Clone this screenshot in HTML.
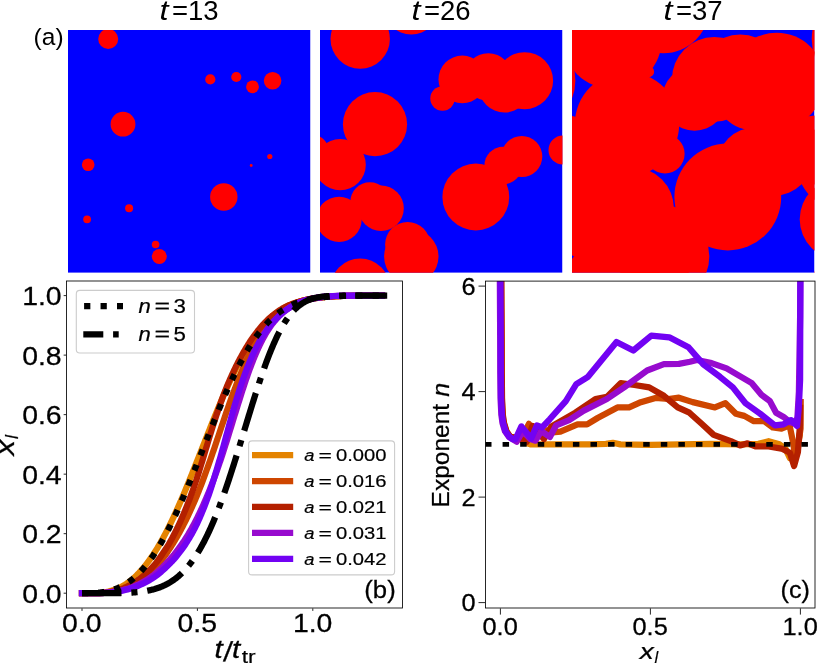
<!DOCTYPE html>
<html><head><meta charset="utf-8"><title>figure</title>
<style>html,body{margin:0;padding:0;background:#fff}svg{display:block;will-change:transform}.dj text{stroke:#000;stroke-width:.011em}</style></head>
<body>
<svg width="830" height="663" viewBox="0 0 830 663" font-family='"Liberation Sans", sans-serif' fill="#000">
<defs>
<clipPath id="cp0"><rect x="68.0" y="30.0" width="242.5" height="242.8"/></clipPath>
<clipPath id="cp1"><rect x="320.0" y="30.0" width="242.5" height="242.8"/></clipPath>
<clipPath id="cp2"><rect x="572.0" y="30.0" width="242.5" height="242.8"/></clipPath>
<clipPath id="cb"><rect x="66.55" y="281.0" width="335.95" height="327.0"/></clipPath>
<clipPath id="cc"><rect x="485.5" y="281.1" width="329.5" height="326.9"/></clipPath>
</defs>
<rect width="830" height="663" fill="#fff"/>
<g fill="#ff0000">
<g clip-path="url(#cp0)">
<rect x="68.0" y="30.0" width="242.5" height="242.8" fill="#0000ff"/>
<circle cx="108.2" cy="39.0" r="10.0"/>
<circle cx="210.3" cy="79.4" r="5.1"/>
<circle cx="236.3" cy="77.0" r="5.1"/>
<circle cx="252.5" cy="86.8" r="6.4"/>
<circle cx="272.6" cy="80.7" r="8.8"/>
<circle cx="123.0" cy="124.2" r="12.4"/>
<circle cx="88.2" cy="164.7" r="6.3"/>
<circle cx="269.8" cy="156.5" r="2.6"/>
<circle cx="251.2" cy="165.5" r="1.4"/>
<circle cx="223.8" cy="197.0" r="13.7"/>
<circle cx="129.1" cy="208.3" r="4.0"/>
<circle cx="87.1" cy="219.3" r="3.9"/>
<circle cx="155.6" cy="244.5" r="3.8"/>
<circle cx="159.3" cy="256.5" r="7.5"/>
</g>
<g clip-path="url(#cp1)">
<rect x="320.0" y="30.0" width="242.5" height="242.8" fill="#0000ff"/>
<circle cx="360.2" cy="39.0" r="29.7"/>
<circle cx="360.2" cy="288.2" r="29.7"/>
<circle cx="462.3" cy="79.4" r="23.8"/>
<circle cx="488.3" cy="77.0" r="23.8"/>
<circle cx="504.5" cy="86.8" r="25.7"/>
<circle cx="524.6" cy="80.7" r="28.5"/>
<circle cx="375.0" cy="124.2" r="32.1"/>
<circle cx="340.2" cy="164.7" r="25.6"/>
<circle cx="521.8" cy="156.5" r="20.5"/>
<circle cx="503.2" cy="165.5" r="18.8"/>
<circle cx="475.8" cy="197.0" r="33.4"/>
<circle cx="381.1" cy="208.3" r="22.7"/>
<circle cx="339.1" cy="219.3" r="22.6"/>
<circle cx="407.6" cy="244.5" r="22.5"/>
<circle cx="411.3" cy="7.3" r="27.2"/>
<circle cx="411.3" cy="256.5" r="27.2"/>
<circle cx="442.5" cy="98.5" r="12.2"/>
<circle cx="369.9" cy="201.9" r="19.6"/>
<circle cx="313.8" cy="150.0" r="14.5"/>
<circle cx="563.0" cy="150.0" r="14.5"/>
</g>
<g clip-path="url(#cp2)">
<rect x="572.0" y="30.0" width="242.5" height="242.8" fill="#0000ff"/>
<circle cx="612.2" cy="39.0" r="49.7"/>
<circle cx="612.2" cy="288.2" r="49.7"/>
<circle cx="861.4" cy="39.0" r="49.7"/>
<circle cx="861.4" cy="288.2" r="49.7"/>
<circle cx="714.3" cy="79.4" r="42.4"/>
<circle cx="740.3" cy="77.0" r="42.4"/>
<circle cx="756.5" cy="86.8" r="44.4"/>
<circle cx="527.4" cy="80.7" r="48.0"/>
<circle cx="776.6" cy="80.7" r="48.0"/>
<circle cx="627.0" cy="124.2" r="52.2"/>
<circle cx="592.2" cy="164.7" r="44.2"/>
<circle cx="841.4" cy="164.7" r="44.2"/>
<circle cx="773.8" cy="156.5" r="39.3"/>
<circle cx="755.2" cy="165.5" r="38.1"/>
<circle cx="727.8" cy="197.0" r="53.4"/>
<circle cx="633.1" cy="208.3" r="40.8"/>
<circle cx="591.1" cy="219.3" r="40.6"/>
<circle cx="840.3" cy="219.3" r="40.6"/>
<circle cx="659.6" cy="-4.7" r="40.5"/>
<circle cx="659.6" cy="244.5" r="40.5"/>
<circle cx="663.3" cy="7.3" r="46.0"/>
<circle cx="663.3" cy="256.5" r="46.0"/>
<circle cx="694.5" cy="98.5" r="32.2"/>
<circle cx="621.9" cy="201.9" r="39.6"/>
<circle cx="565.8" cy="150.0" r="34.5"/>
<circle cx="815.0" cy="150.0" r="34.5"/>
<circle cx="665.0" cy="153.8" r="19.6"/>
<circle cx="648.6" cy="71.7" r="5.5"/>
</g>
</g>
<text x="159.6" y="19.9" font-size="27.5" font-style="italic" textLength="9.0" lengthAdjust="spacingAndGlyphs">t</text>
<text x="171.9" y="19.9" font-size="27.5">=13</text>
<text x="411.6" y="19.9" font-size="27.5" font-style="italic" textLength="9.0" lengthAdjust="spacingAndGlyphs">t</text>
<text x="423.9" y="19.9" font-size="27.5">=26</text>
<text x="663.6" y="19.9" font-size="27.5" font-style="italic" textLength="9.0" lengthAdjust="spacingAndGlyphs">t</text>
<text x="675.9" y="19.9" font-size="27.5">=37</text>
<text x="33.6" y="44.6" font-size="24.5">(a)</text>
<g class="dj">
<g clip-path="url(#cb)" fill="none" stroke-width="6.25" stroke-linejoin="round">
<polyline points="82.00,593.20 86.40,593.20 87.90,593.20 89.43,593.20 91.01,593.20 92.53,593.19 94.08,593.18 95.61,593.16 97.20,593.13 98.82,593.06 100.44,592.95 102.02,592.78 103.56,592.54 105.20,592.21 106.84,591.88 108.40,591.53 110.13,591.10 112.04,590.55 113.60,590.05 115.05,589.53 116.55,588.94 117.94,588.35 119.38,587.69 120.87,586.95 122.25,586.22 123.68,585.41 125.01,584.60 126.27,583.79 127.58,582.90 128.81,582.02 130.08,581.06 131.28,580.10 132.52,579.07 133.70,578.04 134.83,577.01 135.99,575.90 137.11,574.80 138.19,573.69 139.24,572.59 140.26,571.48 141.31,570.31 142.34,569.13 143.34,567.95 144.32,566.77 145.27,565.59 146.20,564.41 147.16,563.16 148.11,561.91 149.03,560.66 149.93,559.40 150.81,558.15 151.68,556.90 152.53,555.65 153.36,554.40 154.22,553.07 155.07,551.74 155.90,550.42 156.72,549.09 157.53,547.77 158.32,546.44 159.10,545.11 159.87,543.79 160.63,542.46 161.38,541.14 162.11,539.81 162.84,538.49 163.56,537.16 164.27,535.83 164.98,534.51 165.71,533.11 166.43,531.71 167.15,530.31 167.86,528.91 168.56,527.51 169.26,526.11 169.94,524.71 170.63,523.31 171.30,521.91 171.97,520.51 172.63,519.11 173.29,517.71 173.95,516.31 174.59,514.91 175.24,513.51 175.87,512.12 176.51,510.72 177.14,509.32 177.76,507.92 178.38,506.52 179.00,505.12 179.61,503.72 180.22,502.32 180.83,500.92 181.43,499.52 182.03,498.12 182.63,496.72 183.22,495.32 183.81,493.92 184.40,492.52 184.98,491.12 185.57,489.72 186.15,488.32 186.72,486.92 187.30,485.52 187.87,484.12 188.44,482.72 189.00,481.33 189.57,479.93 190.13,478.53 190.69,477.13 191.26,475.73 191.82,474.33 192.38,472.93 192.94,471.53 193.50,470.13 194.06,468.73 194.61,467.33 195.17,465.93 195.73,464.53 196.28,463.13 196.83,461.73 197.39,460.33 197.94,458.93 198.49,457.53 199.05,456.13 199.60,454.73 200.15,453.33 200.70,451.94 201.25,450.54 201.81,449.14 202.36,447.74 202.91,446.34 203.46,444.94 204.01,443.54 204.57,442.14 205.12,440.74 205.67,439.34 206.22,437.94 206.78,436.54 207.33,435.14 207.89,433.74 208.44,432.34 209.00,430.94 209.56,429.54 210.11,428.14 210.67,426.74 211.23,425.34 211.79,423.94 212.36,422.55 212.92,421.15 213.48,419.75 214.05,418.35 214.62,416.95 215.19,415.55 215.76,414.15 216.33,412.75 216.90,411.35 217.48,409.95 218.06,408.55 218.64,407.15 219.22,405.75 219.81,404.35 220.40,402.95 220.99,401.55 221.58,400.15 222.18,398.75 222.77,397.35 223.38,395.95 223.98,394.55 224.59,393.15 225.20,391.76 225.82,390.36 226.44,388.96 227.06,387.56 227.68,386.16 228.32,384.76 228.95,383.36 229.59,381.96 230.24,380.56 230.89,379.16 231.54,377.76 232.20,376.36 232.87,374.96 233.54,373.56 234.22,372.16 234.90,370.76 235.60,369.36 236.30,367.96 237.00,366.56 237.72,365.16 238.44,363.76 239.17,362.37 239.91,360.97 240.61,359.64 241.33,358.31 242.06,356.99 242.79,355.66 243.53,354.34 244.29,353.01 245.05,351.68 245.83,350.36 246.61,349.03 247.41,347.71 248.22,346.38 249.04,345.06 249.88,343.73 250.73,342.40 251.60,341.08 252.43,339.83 253.28,338.57 254.15,337.32 255.03,336.07 255.93,334.82 256.84,333.56 257.78,332.31 258.73,331.06 259.71,329.81 260.65,328.63 261.61,327.45 262.60,326.27 263.61,325.09 264.66,323.92 265.74,322.74 266.78,321.63 267.86,320.53 268.98,319.42 270.14,318.32 271.26,317.29 272.43,316.25 273.64,315.22 274.82,314.27 276.05,313.31 277.34,312.35 278.58,311.47 279.89,310.58 281.26,309.70 282.60,308.89 284.02,308.08 285.39,307.34 286.85,306.61 288.25,305.94 289.72,305.28 291.27,304.62 292.73,304.03 294.27,303.44 295.70,302.92 297.21,302.41 298.81,301.89 300.27,301.45 301.83,301.01 303.49,300.56 304.97,300.20 306.55,299.83 308.23,299.46 310.03,299.09 311.57,298.80 313.22,298.50 315.01,298.21 316.95,297.91 318.54,297.69 320.27,297.47 322.17,297.25 324.29,297.03 325.86,296.88 327.59,296.73 329.52,296.59 331.71,296.44 334.26,296.29 337.33,296.15 339.16,296.07 341.25,296.00 343.73,295.92 346.78,295.85 350.78,295.78 356.72,295.70 369.48,295.63 382.04,295.60" stroke="#E48300" stroke-linecap="square"/>
<polyline points="82.00,593.20 87.01,593.20 88.54,593.20 90.08,593.20 91.62,593.20 93.14,593.20 94.67,593.19 96.28,593.18 97.80,593.16 99.32,593.13 100.98,593.07 102.62,592.98 104.20,592.85 105.80,592.68 107.46,592.46 109.28,592.21 110.98,591.95 112.84,591.63 114.37,591.33 116.00,590.97 117.75,590.55 119.36,590.12 120.88,589.68 122.51,589.16 124.01,588.65 125.61,588.06 127.10,587.47 128.50,586.88 129.98,586.22 131.38,585.55 132.85,584.82 134.25,584.08 135.58,583.34 136.97,582.53 138.30,581.72 139.57,580.91 140.89,580.03 142.16,579.15 143.39,578.26 144.67,577.30 145.89,576.35 147.07,575.39 148.29,574.36 149.47,573.33 150.60,572.29 151.70,571.26 152.84,570.16 153.93,569.05 154.97,567.95 156.04,566.77 157.06,565.59 158.04,564.41 159.01,563.23 159.95,562.06 160.89,560.88 161.87,559.63 162.83,558.37 163.79,557.12 164.72,555.87 165.63,554.62 166.51,553.36 167.38,552.11 168.22,550.86 169.05,549.61 169.92,548.28 170.78,546.96 171.63,545.63 172.47,544.30 173.29,542.98 174.11,541.65 174.91,540.33 175.70,539.00 176.48,537.67 177.25,536.35 178.01,535.02 178.76,533.70 179.50,532.37 180.23,531.05 180.95,529.72 181.66,528.39 182.40,526.99 183.13,525.59 183.84,524.20 184.55,522.80 185.25,521.40 185.94,520.00 186.62,518.60 187.29,517.20 187.96,515.80 188.61,514.40 189.27,513.00 189.92,511.60 190.56,510.20 191.20,508.80 191.83,507.40 192.46,506.00 193.08,504.60 193.69,503.20 194.30,501.80 194.90,500.40 195.49,499.00 196.08,497.60 196.66,496.20 197.24,494.81 197.81,493.41 198.37,492.01 198.93,490.61 199.49,489.21 200.04,487.81 200.58,486.41 201.12,485.01 201.69,483.54 202.25,482.06 202.80,480.59 203.35,479.12 203.90,477.64 204.44,476.17 204.98,474.70 205.51,473.22 206.05,471.75 206.58,470.28 207.12,468.80 207.65,467.33 208.18,465.86 208.70,464.38 209.23,462.91 209.75,461.44 210.27,459.96 210.78,458.49 211.29,457.02 211.80,455.54 212.31,454.07 212.82,452.60 213.32,451.13 213.82,449.65 214.32,448.18 214.82,446.71 215.32,445.23 215.81,443.76 216.31,442.29 216.80,440.81 217.29,439.34 217.78,437.87 218.27,436.39 218.76,434.92 219.26,433.45 219.75,431.97 220.24,430.50 220.74,429.03 221.23,427.55 221.73,426.08 222.22,424.61 222.72,423.13 223.21,421.66 223.71,420.19 224.21,418.71 224.70,417.24 225.20,415.77 225.70,414.30 226.20,412.82 226.71,411.35 227.22,409.88 227.73,408.40 228.24,406.93 228.75,405.46 229.27,403.98 229.79,402.51 230.32,401.04 230.85,399.56 231.38,398.09 231.91,396.62 232.45,395.14 232.99,393.67 233.54,392.20 234.09,390.72 234.64,389.25 235.20,387.78 235.76,386.30 236.33,384.83 236.87,383.43 237.41,382.03 237.97,380.63 238.52,379.23 239.08,377.83 239.64,376.43 240.20,375.03 240.77,373.64 241.34,372.24 241.91,370.84 242.48,369.44 243.07,368.04 243.66,366.64 244.26,365.24 244.88,363.84 245.50,362.44 246.14,361.04 246.79,359.64 247.45,358.24 248.11,356.84 248.79,355.44 249.48,354.04 250.18,352.64 250.89,351.24 251.61,349.84 252.35,348.44 253.06,347.12 253.78,345.79 254.52,344.47 255.28,343.14 256.05,341.81 256.84,340.49 257.64,339.16 258.45,337.84 259.29,336.51 260.14,335.18 261.01,333.86 261.85,332.61 262.70,331.35 263.58,330.10 264.49,328.85 265.43,327.60 266.39,326.35 267.33,325.17 268.30,323.99 269.31,322.81 270.35,321.63 271.42,320.45 272.46,319.35 273.54,318.24 274.65,317.14 275.82,316.03 276.94,315.00 278.12,313.97 279.34,312.94 280.52,311.98 281.75,311.02 283.04,310.07 284.29,309.18 285.60,308.30 286.98,307.42 288.31,306.61 289.73,305.79 291.13,305.06 292.49,304.40 293.97,303.73 295.40,303.14 296.95,302.55 298.42,302.04 300.03,301.52 301.54,301.08 303.18,300.64 304.64,300.27 306.19,299.90 307.85,299.53 309.63,299.17 311.16,298.87 312.80,298.58 314.57,298.28 316.51,297.99 318.10,297.77 319.81,297.54 321.68,297.32 323.75,297.10 325.27,296.96 326.93,296.81 328.76,296.66 330.83,296.51 333.19,296.37 335.99,296.22 337.60,296.15 339.42,296.07 341.51,296.00 343.97,295.92 346.98,295.85 350.92,295.78 356.75,295.70 369.24,295.63 382.04,295.60" stroke="#CE4600" stroke-linecap="square"/>
<polyline points="82.00,593.20 87.20,593.20 88.73,593.20 90.23,593.20 91.80,593.20 93.36,593.20 94.91,593.19 96.42,593.18 97.95,593.17 99.48,593.14 100.99,593.10 102.63,593.03 104.20,592.92 105.89,592.76 107.48,592.54 109.19,592.21 110.69,591.88 112.35,591.53 114.27,591.10 115.87,590.70 117.59,590.22 119.23,589.68 120.77,589.16 122.20,588.65 123.71,588.06 125.12,587.47 126.62,586.81 128.02,586.14 129.48,585.41 130.86,584.67 132.17,583.93 133.54,583.12 134.85,582.31 136.20,581.43 137.49,580.54 138.72,579.66 140.00,578.70 141.22,577.75 142.40,576.79 143.62,575.76 144.80,574.73 145.93,573.69 147.03,572.66 148.18,571.56 149.29,570.45 150.37,569.35 151.43,568.24 152.45,567.14 153.52,565.96 154.53,564.78 155.49,563.60 156.48,562.35 157.41,561.10 158.33,559.85 159.23,558.59 160.12,557.34 160.99,556.09 161.86,554.84 162.72,553.59 163.57,552.33 164.42,551.08 165.25,549.83 166.12,548.50 166.96,547.18 167.78,545.85 168.58,544.53 169.35,543.20 170.10,541.87 170.84,540.55 171.57,539.22 172.29,537.90 172.99,536.57 173.72,535.17 174.44,533.77 175.15,532.37 175.85,530.97 176.54,529.57 177.22,528.17 177.89,526.77 178.55,525.37 179.20,523.97 179.85,522.57 180.48,521.18 181.11,519.78 181.73,518.38 182.35,516.98 182.95,515.58 183.55,514.18 184.14,512.78 184.73,511.38 185.30,509.98 185.87,508.58 186.44,507.18 186.99,505.78 187.54,504.38 188.09,502.98 188.66,501.51 189.22,500.03 189.77,498.56 190.32,497.09 190.86,495.62 191.40,494.14 191.94,492.67 192.47,491.20 192.99,489.72 193.52,488.25 194.03,486.78 194.55,485.30 195.05,483.83 195.55,482.36 196.04,480.88 196.53,479.41 197.01,477.94 197.48,476.46 197.95,474.99 198.42,473.52 198.88,472.04 199.33,470.57 199.79,469.10 200.24,467.62 200.70,466.15 201.15,464.68 201.60,463.21 202.05,461.73 202.49,460.26 202.94,458.79 203.39,457.31 203.83,455.84 204.27,454.37 204.72,452.89 205.16,451.42 205.60,449.95 206.04,448.47 206.48,447.00 206.92,445.53 207.36,444.05 207.81,442.58 208.25,441.11 208.70,439.63 209.14,438.16 209.59,436.69 210.04,435.21 210.49,433.74 210.95,432.27 211.40,430.80 211.86,429.32 212.32,427.85 212.79,426.38 213.26,424.90 213.73,423.43 214.20,421.96 214.68,420.48 215.16,419.01 215.65,417.54 216.14,416.06 216.63,414.59 217.13,413.12 217.63,411.64 218.13,410.17 218.64,408.70 219.15,407.22 219.66,405.75 220.18,404.28 220.70,402.80 221.23,401.33 221.76,399.86 222.30,398.38 222.85,396.91 223.41,395.44 223.97,393.97 224.51,392.57 225.06,391.17 225.61,389.77 226.17,388.37 226.74,386.97 227.32,385.57 227.90,384.17 228.50,382.77 229.10,381.37 229.71,379.97 230.33,378.57 230.95,377.17 231.58,375.77 232.22,374.37 232.87,372.97 233.52,371.57 234.18,370.17 234.85,368.77 235.53,367.37 236.22,365.97 236.92,364.58 237.63,363.18 238.34,361.78 239.08,360.38 239.78,359.05 240.49,357.72 241.22,356.40 241.96,355.07 242.70,353.75 243.46,352.42 244.22,351.10 244.99,349.77 245.78,348.44 246.57,347.12 247.38,345.79 248.20,344.47 249.05,343.14 249.91,341.81 250.74,340.56 251.58,339.31 252.45,338.06 253.33,336.81 254.23,335.55 255.14,334.30 256.08,333.05 257.04,331.80 258.03,330.54 258.97,329.37 259.94,328.19 260.94,327.01 261.96,325.83 263.02,324.65 264.03,323.55 265.08,322.44 266.16,321.34 267.28,320.23 268.43,319.13 269.55,318.10 270.70,317.06 271.90,316.03 273.06,315.08 274.26,314.12 275.52,313.16 276.83,312.20 278.10,311.32 279.43,310.44 280.70,309.63 282.04,308.81 283.45,308.00 284.80,307.27 286.23,306.53 287.58,305.87 289.02,305.21 290.57,304.54 292.04,303.95 293.63,303.36 295.11,302.85 296.71,302.33 298.18,301.89 299.74,301.45 301.38,301.01 303.12,300.56 304.66,300.20 306.29,299.83 308.03,299.46 309.52,299.17 311.10,298.87 312.80,298.58 314.63,298.28 316.12,298.06 317.71,297.84 319.40,297.62 321.23,297.40 323.23,297.18 325.44,296.96 327.08,296.81 328.88,296.66 330.90,296.51 333.19,296.37 335.88,296.22 337.44,296.15 339.18,296.07 341.16,296.00 343.41,295.92 346.07,295.85 349.48,295.78 354.52,295.70 365.28,295.63 382.04,295.60" stroke="#B42000" stroke-linecap="square"/>
<polyline points="82.00,593.20 84.18,593.20 85.72,593.20 87.29,593.20 88.82,593.20 90.43,593.19 91.99,593.18 93.51,593.17 95.10,593.15 96.70,593.13 98.30,593.09 99.83,593.04 101.51,592.98 103.04,592.91 104.71,592.81 106.53,592.68 108.12,592.54 109.84,592.37 111.70,592.15 113.20,591.95 114.79,591.71 116.48,591.43 118.27,591.10 120.19,590.70 122.22,590.22 123.77,589.83 125.36,589.38 126.85,588.94 128.46,588.43 129.97,587.91 131.39,587.40 132.92,586.81 134.36,586.22 135.90,585.55 137.36,584.89 138.75,584.23 140.22,583.49 141.63,582.75 142.97,582.02 144.39,581.21 145.75,580.40 147.06,579.59 148.33,578.78 149.66,577.89 150.95,577.01 152.19,576.13 153.48,575.17 154.71,574.21 155.89,573.25 157.11,572.22 158.28,571.19 159.41,570.16 160.51,569.13 161.67,568.02 162.80,566.92 163.91,565.81 165.01,564.71 166.08,563.60 167.14,562.50 168.17,561.39 169.19,560.29 170.26,559.11 171.30,557.93 172.32,556.75 173.30,555.57 174.26,554.40 175.24,553.14 176.20,551.89 177.14,550.64 178.08,549.39 179.00,548.13 179.91,546.88 180.82,545.63 181.71,544.38 182.59,543.13 183.45,541.87 184.29,540.62 185.15,539.30 185.98,537.97 186.80,536.64 187.61,535.32 188.40,533.99 189.18,532.67 189.95,531.34 190.71,530.01 191.46,528.69 192.20,527.36 192.92,526.04 193.64,524.71 194.35,523.39 195.09,521.99 195.81,520.59 196.53,519.19 197.23,517.79 197.93,516.39 198.61,514.99 199.29,513.59 199.95,512.19 200.61,510.79 201.26,509.39 201.91,507.99 202.54,506.59 203.17,505.19 203.79,503.79 204.41,502.39 205.02,500.99 205.62,499.59 206.22,498.19 206.81,496.79 207.39,495.39 207.97,493.99 208.55,492.60 209.12,491.20 209.68,489.80 210.24,488.40 210.79,487.00 211.34,485.60 211.89,484.20 212.45,482.72 213.01,481.25 213.57,479.78 214.12,478.31 214.67,476.83 215.21,475.36 215.75,473.89 216.28,472.41 216.81,470.94 217.33,469.47 217.85,467.99 218.36,466.52 218.87,465.05 219.38,463.57 219.88,462.10 220.38,460.63 220.87,459.15 221.36,457.68 221.85,456.21 222.34,454.73 222.82,453.26 223.29,451.79 223.77,450.31 224.24,448.84 224.71,447.37 225.18,445.90 225.64,444.42 226.10,442.95 226.57,441.48 227.03,440.00 227.48,438.53 227.94,437.06 228.40,435.58 228.85,434.11 229.30,432.64 229.76,431.16 230.21,429.69 230.66,428.22 231.11,426.74 231.57,425.27 232.02,423.80 232.47,422.32 232.92,420.85 233.38,419.38 233.83,417.90 234.29,416.43 234.74,414.96 235.20,413.49 235.65,412.01 236.11,410.54 236.57,409.07 237.02,407.59 237.48,406.12 237.94,404.65 238.40,403.17 238.86,401.70 239.32,400.23 239.79,398.75 240.25,397.28 240.72,395.81 241.18,394.33 241.65,392.86 242.13,391.39 242.60,389.91 243.08,388.44 243.57,386.97 244.05,385.49 244.54,384.02 245.04,382.55 245.53,381.07 246.04,379.60 246.54,378.13 247.05,376.66 247.57,375.18 248.09,373.71 248.62,372.24 249.15,370.76 249.69,369.29 250.23,367.82 250.78,366.34 251.34,364.87 251.90,363.40 252.45,362.00 253.00,360.60 253.56,359.20 254.13,357.80 254.71,356.40 255.30,355.00 255.89,353.60 256.50,352.20 257.11,350.80 257.74,349.40 258.38,348.00 259.03,346.60 259.69,345.20 260.37,343.80 261.06,342.40 261.77,341.00 262.50,339.60 263.21,338.28 263.94,336.95 264.69,335.63 265.46,334.30 266.25,332.98 267.07,331.65 267.91,330.32 268.77,329.00 269.61,327.75 270.48,326.49 271.38,325.24 272.31,323.99 273.28,322.74 274.24,321.56 275.24,320.38 276.28,319.20 277.30,318.10 278.35,316.99 279.46,315.89 280.61,314.78 281.73,313.75 282.90,312.72 284.14,311.69 285.34,310.73 286.61,309.77 287.85,308.89 289.15,308.00 290.42,307.19 291.77,306.38 293.20,305.57 294.59,304.84 296.06,304.10 297.49,303.44 299.01,302.77 300.46,302.19 302.03,301.60 303.51,301.08 305.09,300.56 306.56,300.12 308.14,299.68 309.86,299.24 311.44,298.87 313.16,298.50 314.64,298.21 316.23,297.91 317.95,297.62 319.85,297.32 321.44,297.10 323.17,296.88 325.06,296.66 327.20,296.44 328.84,296.29 330.75,296.15 333.09,296.00 336.25,295.85 338.42,295.78 341.49,295.70 347.75,295.63 382.04,295.60" stroke="#970BCE" stroke-linecap="square"/>
<polyline points="82.00,593.20 87.30,593.20 88.85,593.20 90.38,593.20 91.89,593.20 93.46,593.20 95.04,593.19 96.57,593.18 98.14,593.17 99.73,593.14 101.32,593.10 102.90,593.04 104.46,592.97 105.96,592.87 107.74,592.73 109.56,592.58 111.24,592.41 113.07,592.21 115.07,591.95 116.69,591.71 118.43,591.43 120.29,591.10 122.27,590.70 124.38,590.22 126.00,589.83 127.66,589.38 129.20,588.94 130.65,588.50 132.24,587.98 133.74,587.47 135.15,586.95 136.69,586.36 138.14,585.77 139.52,585.19 141.01,584.52 142.43,583.86 143.79,583.20 145.24,582.46 146.62,581.72 147.96,580.99 149.37,580.18 150.73,579.37 152.04,578.56 153.41,577.67 154.71,576.79 155.96,575.90 157.25,574.95 158.48,573.99 159.66,573.03 160.88,572.00 162.06,570.97 163.21,569.94 164.35,568.91 165.45,567.88 166.54,566.84 167.69,565.74 168.82,564.63 169.93,563.53 171.02,562.42 172.09,561.32 173.11,560.21 174.17,559.04 175.18,557.86 176.16,556.68 177.12,555.50 178.06,554.32 178.99,553.14 179.97,551.89 180.92,550.64 181.85,549.39 182.75,548.13 183.64,546.88 184.50,545.63 185.35,544.38 186.17,543.13 187.03,541.80 187.86,540.47 188.68,539.15 189.48,537.82 190.26,536.50 191.03,535.17 191.78,533.84 192.51,532.52 193.23,531.19 193.94,529.87 194.67,528.47 195.38,527.07 196.08,525.67 196.77,524.27 197.44,522.87 198.09,521.47 198.73,520.07 199.36,518.67 199.97,517.27 200.58,515.87 201.17,514.47 201.76,513.07 202.34,511.67 202.92,510.27 203.48,508.87 204.04,507.47 204.60,506.08 205.14,504.68 205.71,503.20 206.26,501.73 206.81,500.26 207.35,498.78 207.88,497.31 208.40,495.84 208.92,494.36 209.42,492.89 209.92,491.42 210.42,489.94 210.90,488.47 211.38,487.00 211.86,485.52 212.33,484.05 212.79,482.58 213.24,481.10 213.69,479.63 214.14,478.16 214.58,476.68 215.02,475.21 215.46,473.74 215.90,472.27 216.34,470.79 216.77,469.32 217.21,467.85 217.65,466.37 218.08,464.90 218.52,463.43 218.95,461.95 219.39,460.48 219.82,459.01 220.25,457.53 220.68,456.06 221.10,454.59 221.52,453.11 221.93,451.64 222.35,450.17 222.76,448.69 223.17,447.22 223.57,445.75 223.97,444.27 224.37,442.80 224.77,441.33 225.17,439.86 225.57,438.38 225.97,436.91 226.37,435.44 226.77,433.96 227.17,432.49 227.57,431.02 227.97,429.54 228.37,428.07 228.77,426.60 229.17,425.12 229.57,423.65 229.97,422.18 230.37,420.70 230.78,419.23 231.19,417.76 231.60,416.28 232.01,414.81 232.42,413.34 232.83,411.86 233.25,410.39 233.67,408.92 234.09,407.44 234.51,405.97 234.94,404.50 235.37,403.03 235.81,401.55 236.25,400.08 236.69,398.61 237.14,397.13 237.60,395.66 238.06,394.19 238.52,392.71 238.99,391.24 239.47,389.77 239.95,388.29 240.43,386.82 240.92,385.35 241.41,383.87 241.91,382.40 242.42,380.93 242.93,379.45 243.45,377.98 243.97,376.51 244.50,375.03 245.04,373.56 245.58,372.09 246.14,370.62 246.70,369.14 247.24,367.74 247.78,366.34 248.34,364.94 248.90,363.54 249.48,362.14 250.06,360.74 250.65,359.35 251.26,357.95 251.88,356.55 252.51,355.15 253.16,353.75 253.82,352.35 254.49,350.95 255.18,349.55 255.88,348.15 256.60,346.75 257.34,345.35 258.05,344.02 258.77,342.70 259.52,341.37 260.27,340.05 261.05,338.72 261.85,337.39 262.66,336.07 263.50,334.74 264.36,333.42 265.20,332.16 266.06,330.91 266.94,329.66 267.86,328.41 268.80,327.16 269.77,325.90 270.71,324.73 271.69,323.55 272.71,322.37 273.76,321.19 274.77,320.08 275.83,318.98 276.92,317.87 278.04,316.77 279.14,315.74 280.27,314.71 281.45,313.68 282.68,312.65 283.87,311.69 285.11,310.73 286.41,309.77 287.67,308.89 288.99,308.00 290.26,307.19 291.60,306.38 293.02,305.57 294.39,304.84 295.85,304.10 297.26,303.44 298.77,302.77 300.22,302.19 301.78,301.60 303.26,301.08 304.86,300.56 306.36,300.12 307.98,299.68 309.45,299.31 311.05,298.94 312.80,298.58 314.31,298.28 315.93,297.99 317.71,297.69 319.68,297.40 321.32,297.18 323.13,296.96 325.18,296.73 326.72,296.59 328.44,296.44 330.43,296.29 332.79,296.15 335.76,296.00 337.60,295.92 339.79,295.85 342.40,295.78 345.88,295.70 352.58,295.63 382.04,295.60" stroke="#7202F3" stroke-linecap="square"/>
<polyline points="82.00,593.20 82.76,593.20 83.53,593.20 84.29,593.20 85.06,593.20 85.82,593.19 86.59,593.19 87.35,593.18 88.12,593.17 88.88,593.16 89.65,593.15 90.41,593.13 91.18,593.11 91.94,593.09 92.71,593.06 93.47,593.03 94.24,593.00 95.00,592.95 95.77,592.91 96.53,592.86 97.30,592.80 98.06,592.74 98.83,592.67 99.59,592.59 100.36,592.51 101.12,592.42 101.89,592.32 102.65,592.22 103.42,592.11 104.18,591.99 104.95,591.86 105.71,591.72 106.48,591.57 107.24,591.41 108.01,591.25 108.77,591.07 109.54,590.88 110.30,590.68 111.07,590.47 111.83,590.26 112.60,590.02 113.36,589.78 114.13,589.53 114.89,589.26 115.66,588.98 116.42,588.69 117.19,588.38 117.95,588.06 118.72,587.73 119.48,587.39 120.25,587.03 121.01,586.65 121.78,586.27 122.54,585.86 123.31,585.45 124.07,585.01 124.84,584.57 125.60,584.10 126.37,583.62 127.13,583.13 127.90,582.62 128.66,582.09 129.43,581.54 130.19,580.98 130.96,580.40 131.72,579.81 132.49,579.20 133.25,578.57 134.02,577.92 134.78,577.25 135.55,576.57 136.31,575.87 137.08,575.15 137.84,574.41 138.61,573.65 139.37,572.88 140.14,572.08 140.90,571.27 141.67,570.44 142.43,569.59 143.19,568.72 143.96,567.83 144.72,566.92 145.49,566.00 146.25,565.05 147.02,564.08 147.78,563.10 148.55,562.09 149.31,561.07 150.08,560.03 150.84,558.96 151.61,557.88 152.37,556.78 153.14,555.66 153.90,554.51 154.67,553.35 155.43,552.17 156.20,550.98 156.96,549.76 157.73,548.52 158.49,547.26 159.26,545.99 160.02,544.69 160.79,543.38 161.55,542.05 162.32,540.70 163.08,539.33 163.85,537.95 164.61,536.54 165.38,535.12 166.14,533.68 166.91,532.22 167.67,530.75 168.44,529.25 169.20,527.75 169.97,526.22 170.73,524.68 171.50,523.12 172.26,521.54 173.03,519.95 173.79,518.35 174.56,516.73 175.32,515.09 176.09,513.44 176.85,511.78 177.62,510.10 178.38,508.41 179.15,506.70 179.91,504.98 180.68,503.25 181.44,501.50 182.21,499.75 182.97,497.98 183.74,496.20 184.50,494.41 185.27,492.61 186.03,490.80 186.80,488.98 187.56,487.15 188.33,485.31 189.09,483.46 189.86,481.61 190.62,479.74 191.39,477.87 192.15,475.99 192.92,474.11 193.68,472.22 194.45,470.32 195.21,468.42 195.98,466.51 196.74,464.60 197.51,462.69 198.27,460.77 199.04,458.85 199.80,456.93 200.57,455.00 201.33,453.07 202.10,451.15 202.86,449.22 203.63,447.29 204.39,445.36 205.15,443.43 205.92,441.51 206.68,439.58 207.45,437.66 208.21,435.74 208.98,433.82 209.74,431.91 210.51,430.00 211.27,428.09 212.04,426.19 212.80,424.29 213.57,422.40 214.33,420.52 215.10,418.64 215.86,416.77 216.63,414.91 217.39,413.06 218.16,411.21 218.92,409.37 219.69,407.54 220.45,405.72 221.22,403.91 221.98,402.11 222.75,400.33 223.51,398.55 224.28,396.78 225.04,395.03 225.81,393.28 226.57,391.55 227.34,389.84 228.10,388.13 228.87,386.44 229.63,384.76 230.40,383.10 231.16,381.45 231.93,379.82 232.69,378.20 233.46,376.59 234.22,375.00 234.99,373.43 235.75,371.87 236.52,370.33 237.28,368.80 238.05,367.29 238.81,365.80 239.58,364.33 240.34,362.87 241.11,361.43 241.87,360.00 242.64,358.60 243.40,357.21 244.17,355.84 244.93,354.49 245.70,353.15 246.46,351.83 247.23,350.54 247.99,349.26 248.76,347.99 249.52,346.75 250.29,345.53 251.05,344.32 251.82,343.13 252.58,341.96 253.35,340.81 254.11,339.68 254.88,338.57 255.64,337.47 256.41,336.40 257.17,335.34 257.94,334.30 258.70,333.28 259.47,332.28 260.23,331.30 261.00,330.33 261.76,329.38 262.53,328.45 263.29,327.54 264.06,326.65 264.82,325.77 265.58,324.91 266.35,324.07 267.11,323.25 267.88,322.45 268.64,321.66 269.41,320.88 270.17,320.13 270.94,319.39 271.70,318.67 272.47,317.96 273.23,317.27 274.00,316.60 274.76,315.94 275.53,315.30 276.29,314.68 277.06,314.06 277.82,313.47 278.59,312.89 279.35,312.32 280.12,311.77 280.88,311.23 281.65,310.70 282.41,310.19 283.18,309.70 283.94,309.21 284.71,308.74 285.47,308.28 286.24,307.84 287.00,307.41 287.77,306.99 288.53,306.58 289.30,306.18 290.06,305.80 290.83,305.42 291.59,305.06 292.36,304.71 293.12,304.37 293.89,304.04 294.65,303.71 295.42,303.40 296.18,303.10 296.95,302.81 297.71,302.53 298.48,302.26 299.24,301.99 300.01,301.74 300.77,301.49 301.54,301.25 302.30,301.02 303.07,300.80 303.83,300.59 304.60,300.38 305.36,300.18 306.13,299.99 306.89,299.80 307.66,299.62 308.42,299.45 309.19,299.28 309.95,299.12 310.72,298.97 311.48,298.82 312.25,298.68 313.01,298.54 313.78,298.41 314.54,298.28 315.31,298.16 316.07,298.04 316.84,297.93 317.60,297.82 318.37,297.72 319.13,297.62 319.90,297.52 320.66,297.43 321.43,297.34 322.19,297.26 322.96,297.18 323.72,297.10 324.49,297.03 325.25,296.96 326.01,296.89 326.78,296.82 327.54,296.76 328.31,296.70 329.07,296.65 329.84,296.59 330.60,296.54 331.37,296.49 332.13,296.45 332.90,296.40 333.66,296.36 334.43,296.32 335.19,296.28 335.96,296.24 336.72,296.21 337.49,296.18 338.25,296.14 339.02,296.11 339.78,296.09 340.55,296.06 341.31,296.03 342.08,296.01 342.84,295.99 343.61,295.96 344.37,295.94 345.14,295.92 345.90,295.90 346.67,295.89 347.43,295.87 348.20,295.85 348.96,295.84 349.73,295.82 350.49,295.81 351.26,295.80 352.02,295.79 352.79,295.78 353.55,295.76 354.32,295.75 355.08,295.74 355.85,295.74 356.61,295.73 357.38,295.72 358.14,295.71 358.91,295.70 359.67,295.70 360.44,295.69 361.20,295.69 361.97,295.68 362.73,295.67 363.50,295.67 364.26,295.67 365.03,295.66 365.79,295.66 366.56,295.65 367.32,295.65 368.09,295.65 368.85,295.64 369.62,295.64 370.38,295.64 371.15,295.63 371.91,295.63 372.68,295.63 373.44,295.63 374.21,295.63 374.97,295.62 375.74,295.62 376.50,295.62 377.27,295.62 378.03,295.62 378.80,295.62 379.56,295.62 380.33,295.61 381.09,295.61 381.86,295.61 382.62,295.61 383.39,295.61 384.15,295.61 384.92,295.61 385.68,295.61 386.44,295.61 387.21,295.61" stroke="#000" stroke-dasharray="6.17 10.18"/>
<polyline points="82.00,593.20 82.76,593.20 83.53,593.20 84.29,593.20 85.06,593.20 85.82,593.20 86.59,593.20 87.35,593.20 88.12,593.20 88.88,593.20 89.65,593.20 90.41,593.20 91.18,593.20 91.94,593.20 92.71,593.20 93.47,593.20 94.24,593.20 95.00,593.20 95.77,593.20 96.53,593.20 97.30,593.20 98.06,593.20 98.83,593.20 99.59,593.20 100.36,593.20 101.12,593.19 101.89,593.19 102.65,593.19 103.42,593.19 104.18,593.19 104.95,593.19 105.71,593.18 106.48,593.18 107.24,593.18 108.01,593.18 108.77,593.17 109.54,593.17 110.30,593.16 111.07,593.16 111.83,593.15 112.60,593.14 113.36,593.14 114.13,593.13 114.89,593.12 115.66,593.11 116.42,593.10 117.19,593.09 117.95,593.07 118.72,593.06 119.48,593.05 120.25,593.03 121.01,593.01 121.78,592.99 122.54,592.97 123.31,592.95 124.07,592.92 124.84,592.90 125.60,592.87 126.37,592.84 127.13,592.81 127.90,592.77 128.66,592.74 129.43,592.70 130.19,592.66 130.96,592.61 131.72,592.56 132.49,592.51 133.25,592.46 134.02,592.40 134.78,592.34 135.55,592.28 136.31,592.21 137.08,592.14 137.84,592.07 138.61,591.99 139.37,591.90 140.14,591.81 140.90,591.72 141.67,591.62 142.43,591.52 143.19,591.41 143.96,591.30 144.72,591.18 145.49,591.05 146.25,590.92 147.02,590.78 147.78,590.63 148.55,590.48 149.31,590.32 150.08,590.16 150.84,589.98 151.61,589.80 152.37,589.61 153.14,589.41 153.90,589.20 154.67,588.99 155.43,588.76 156.20,588.53 156.96,588.29 157.73,588.03 158.49,587.77 159.26,587.50 160.02,587.21 160.79,586.91 161.55,586.61 162.32,586.29 163.08,585.96 163.85,585.61 164.61,585.26 165.38,584.89 166.14,584.50 166.91,584.11 167.67,583.70 168.44,583.27 169.20,582.83 169.97,582.38 170.73,581.91 171.50,581.42 172.26,580.92 173.03,580.40 173.79,579.87 174.56,579.32 175.32,578.75 176.09,578.16 176.85,577.56 177.62,576.94 178.38,576.29 179.15,575.63 179.91,574.95 180.68,574.25 181.44,573.53 182.21,572.79 182.97,572.03 183.74,571.24 184.50,570.44 185.27,569.61 186.03,568.76 186.80,567.89 187.56,567.00 188.33,566.08 189.09,565.14 189.86,564.17 190.62,563.18 191.39,562.17 192.15,561.13 192.92,560.06 193.68,558.98 194.45,557.86 195.21,556.72 195.98,555.55 196.74,554.36 197.51,553.14 198.27,551.89 199.04,550.62 199.80,549.32 200.57,547.99 201.33,546.64 202.10,545.26 202.86,543.84 203.63,542.41 204.39,540.94 205.15,539.45 205.92,537.92 206.68,536.37 207.45,534.79 208.21,533.19 208.98,531.55 209.74,529.89 210.51,528.19 211.27,526.47 212.04,524.73 212.80,522.95 213.57,521.15 214.33,519.31 215.10,517.46 215.86,515.57 216.63,513.66 217.39,511.72 218.16,509.75 218.92,507.76 219.69,505.74 220.45,503.69 221.22,501.63 221.98,499.53 222.75,497.41 223.51,495.27 224.28,493.11 225.04,490.92 225.81,488.71 226.57,486.48 227.34,484.22 228.10,481.95 228.87,479.66 229.63,477.34 230.40,475.01 231.16,472.66 231.93,470.30 232.69,467.92 233.46,465.52 234.22,463.11 234.99,460.68 235.75,458.24 236.52,455.79 237.28,453.33 238.05,450.86 238.81,448.38 239.58,445.89 240.34,443.40 241.11,440.89 241.87,438.39 242.64,435.88 243.40,433.36 244.17,430.85 244.93,428.33 245.70,425.82 246.46,423.30 247.23,420.79 247.99,418.29 248.76,415.78 249.52,413.29 250.29,410.80 251.05,408.32 251.82,405.85 252.58,403.39 253.35,400.94 254.11,398.50 254.88,396.08 255.64,393.68 256.41,391.29 257.17,388.91 257.94,386.56 258.70,384.23 259.47,381.91 260.23,379.62 261.00,377.35 261.76,375.11 262.53,372.89 263.29,370.69 264.06,368.53 264.82,366.39 265.58,364.27 266.35,362.19 267.11,360.14 267.88,358.11 268.64,356.12 269.41,354.16 270.17,352.24 270.94,350.34 271.70,348.48 272.47,346.66 273.23,344.87 274.00,343.12 274.76,341.40 275.53,339.71 276.29,338.07 277.06,336.46 277.82,334.89 278.59,333.35 279.35,331.85 280.12,330.39 280.88,328.97 281.65,327.59 282.41,326.24 283.18,324.93 283.94,323.65 284.71,322.42 285.47,321.22 286.24,320.05 287.00,318.93 287.77,317.84 288.53,316.78 289.30,315.77 290.06,314.78 290.83,313.83 291.59,312.92 292.36,312.03 293.12,311.18 293.89,310.37 294.65,309.58 295.42,308.83 296.18,308.11 296.95,307.41 297.71,306.75 298.48,306.12 299.24,305.51 300.01,304.93 300.77,304.37 301.54,303.85 302.30,303.34 303.07,302.87 303.83,302.41 304.60,301.98 305.36,301.57 306.13,301.18 306.89,300.81 307.66,300.46 308.42,300.13 309.19,299.82 309.95,299.53 310.72,299.25 311.48,298.99 312.25,298.74 313.01,298.51 313.78,298.30 314.54,298.09 315.31,297.91 316.07,297.73 316.84,297.56 317.60,297.41 318.37,297.26 319.13,297.13 319.90,297.00 320.66,296.89 321.43,296.78 322.19,296.68 322.96,296.58 323.72,296.50 324.49,296.42 325.25,296.35 326.01,296.28 326.78,296.22 327.54,296.16 328.31,296.11 329.07,296.06 329.84,296.01 330.60,295.97 331.37,295.94 332.13,295.90 332.90,295.87 333.66,295.85 334.43,295.82 335.19,295.80 335.96,295.78 336.72,295.76 337.49,295.74 338.25,295.73 339.02,295.71 339.78,295.70 340.55,295.69 341.31,295.68 342.08,295.67 342.84,295.66 343.61,295.65 344.37,295.65 345.14,295.64 345.90,295.64 346.67,295.63 347.43,295.63 348.20,295.62 348.96,295.62 349.73,295.62 350.49,295.62 351.26,295.61 352.02,295.61 352.79,295.61 353.55,295.61 354.32,295.61 355.08,295.61 355.85,295.61 356.61,295.61 357.38,295.60 358.14,295.60 358.91,295.60 359.67,295.60 360.44,295.60 361.20,295.60 361.97,295.60 362.73,295.60 363.50,295.60 364.26,295.60 365.03,295.60 365.79,295.60 366.56,295.60 367.32,295.60 368.09,295.60 368.85,295.60 369.62,295.60 370.38,295.60 371.15,295.60 371.91,295.60 372.68,295.60 373.44,295.60 374.21,295.60 374.97,295.60 375.74,295.60 376.50,295.60 377.27,295.60 378.03,295.60 378.80,295.60 379.56,295.60 380.33,295.60 381.09,295.60 381.86,295.60 382.62,295.60 383.39,295.60 384.15,295.60 384.92,295.60 385.68,295.60 386.44,295.60 387.21,295.60" stroke="#000" stroke-dasharray="39.49 9.87 6.17 9.87"/>
</g>
<g stroke="#000" stroke-width="0.85" fill="none">
<rect x="66.55" y="281.0" width="335.95" height="327.0"/>
</g>
<g stroke="#000" stroke-width="0.85">
<line x1="63.65" x2="66.14999999999999" y1="593.20" y2="593.20"/>
<line x1="63.65" x2="66.14999999999999" y1="533.68" y2="533.68"/>
<line x1="63.65" x2="66.14999999999999" y1="474.16" y2="474.16"/>
<line x1="63.65" x2="66.14999999999999" y1="414.64" y2="414.64"/>
<line x1="63.65" x2="66.14999999999999" y1="355.12" y2="355.12"/>
<line x1="63.65" x2="66.14999999999999" y1="295.60" y2="295.60"/>
<line y1="608.4" y2="610.9" x1="82.00" x2="82.00"/>
<line y1="608.4" y2="610.9" x1="197.40" x2="197.40"/>
<line y1="608.4" y2="610.9" x1="312.80" x2="312.80"/>
</g>
<text x="22.20" y="602.70" font-size="25" text-anchor="start" textLength="39.50" lengthAdjust="spacingAndGlyphs" >0.0</text>
<text x="22.20" y="543.18" font-size="25" text-anchor="start" textLength="39.50" lengthAdjust="spacingAndGlyphs" >0.2</text>
<text x="22.20" y="483.66" font-size="25" text-anchor="start" textLength="39.50" lengthAdjust="spacingAndGlyphs" >0.4</text>
<text x="22.20" y="424.14" font-size="25" text-anchor="start" textLength="39.50" lengthAdjust="spacingAndGlyphs" >0.6</text>
<text x="22.20" y="364.62" font-size="25" text-anchor="start" textLength="39.50" lengthAdjust="spacingAndGlyphs" >0.8</text>
<text x="22.20" y="305.10" font-size="25" text-anchor="start" textLength="39.50" lengthAdjust="spacingAndGlyphs" >1.0</text>
<text x="62.10" y="632.30" font-size="25" text-anchor="start" textLength="39.50" lengthAdjust="spacingAndGlyphs" >0.0</text>
<text x="177.50" y="632.30" font-size="25" text-anchor="start" textLength="39.50" lengthAdjust="spacingAndGlyphs" >0.5</text>
<text x="292.90" y="632.30" font-size="25" text-anchor="start" textLength="39.50" lengthAdjust="spacingAndGlyphs" >1.0</text>
<g>
<rect x="76.3" y="290.4" width="118.2" height="62.6" rx="3.5" fill="#fff" fill-opacity="0.8" stroke="#ccc" stroke-width="1.1"/>
<line x1="84.1" x2="123" y1="306.1" y2="306.1" stroke="#000" stroke-width="6.25" stroke-dasharray="6.25 10.2"/>
<line x1="83.3" x2="123" y1="334.3" y2="334.3" stroke="#000" stroke-width="6.25" stroke-dasharray="20 9.8 5.6 10"/>
<text x="138.60" y="313.00" font-size="19.44" text-anchor="start" textLength="12.30" lengthAdjust="spacingAndGlyphs" font-style="italic">n</text>
<text x="154.60" y="313.00" font-size="19.44" text-anchor="start" textLength="15.60" lengthAdjust="spacingAndGlyphs" >=</text>
<text x="173.60" y="313.00" font-size="19.44" text-anchor="start" textLength="12.40" lengthAdjust="spacingAndGlyphs" >3</text>
<text x="138.60" y="340.90" font-size="19.44" text-anchor="start" textLength="12.30" lengthAdjust="spacingAndGlyphs" font-style="italic">n</text>
<text x="154.60" y="340.90" font-size="19.44" text-anchor="start" textLength="15.60" lengthAdjust="spacingAndGlyphs" >=</text>
<text x="173.60" y="340.90" font-size="19.44" text-anchor="start" textLength="12.40" lengthAdjust="spacingAndGlyphs" >5</text>
</g>
<g>
<rect x="248.6" y="440.9" width="146" height="134" rx="3.5" fill="#fff" fill-opacity="0.8" stroke="#ccc" stroke-width="1.1"/>
<line x1="252" x2="293.2" y1="455.10" y2="455.10" stroke="#E48300" stroke-width="6.25"/>
<text x="304.30" y="461.00" font-size="17.4" text-anchor="start" textLength="10.20" lengthAdjust="spacingAndGlyphs" font-style="italic">a</text>
<text x="318.50" y="461.00" font-size="17.4" text-anchor="start" textLength="13.40" lengthAdjust="spacingAndGlyphs" >=</text>
<text x="336.00" y="461.00" font-size="17.4" text-anchor="start" textLength="50.60" lengthAdjust="spacingAndGlyphs" >0.000</text>
<line x1="252" x2="293.2" y1="481.03" y2="481.03" stroke="#CE4600" stroke-width="6.25"/>
<text x="304.30" y="486.93" font-size="17.4" text-anchor="start" textLength="10.20" lengthAdjust="spacingAndGlyphs" font-style="italic">a</text>
<text x="318.50" y="486.93" font-size="17.4" text-anchor="start" textLength="13.40" lengthAdjust="spacingAndGlyphs" >=</text>
<text x="336.00" y="486.93" font-size="17.4" text-anchor="start" textLength="50.60" lengthAdjust="spacingAndGlyphs" >0.016</text>
<line x1="252" x2="293.2" y1="506.96" y2="506.96" stroke="#B42000" stroke-width="6.25"/>
<text x="304.30" y="512.86" font-size="17.4" text-anchor="start" textLength="10.20" lengthAdjust="spacingAndGlyphs" font-style="italic">a</text>
<text x="318.50" y="512.86" font-size="17.4" text-anchor="start" textLength="13.40" lengthAdjust="spacingAndGlyphs" >=</text>
<text x="336.00" y="512.86" font-size="17.4" text-anchor="start" textLength="50.60" lengthAdjust="spacingAndGlyphs" >0.021</text>
<line x1="252" x2="293.2" y1="532.89" y2="532.89" stroke="#970BCE" stroke-width="6.25"/>
<text x="304.30" y="538.79" font-size="17.4" text-anchor="start" textLength="10.20" lengthAdjust="spacingAndGlyphs" font-style="italic">a</text>
<text x="318.50" y="538.79" font-size="17.4" text-anchor="start" textLength="13.40" lengthAdjust="spacingAndGlyphs" >=</text>
<text x="336.00" y="538.79" font-size="17.4" text-anchor="start" textLength="50.60" lengthAdjust="spacingAndGlyphs" >0.031</text>
<line x1="252" x2="293.2" y1="558.82" y2="558.82" stroke="#7202F3" stroke-width="6.25"/>
<text x="304.30" y="564.72" font-size="17.4" text-anchor="start" textLength="10.20" lengthAdjust="spacingAndGlyphs" font-style="italic">a</text>
<text x="318.50" y="564.72" font-size="17.4" text-anchor="start" textLength="13.40" lengthAdjust="spacingAndGlyphs" >=</text>
<text x="336.00" y="564.72" font-size="17.4" text-anchor="start" textLength="50.60" lengthAdjust="spacingAndGlyphs" >0.042</text>
</g>
<text x="364.30" y="598.00" font-size="24.7" text-anchor="start" textLength="31.40" lengthAdjust="spacingAndGlyphs" >(b)</text>
<text x="214.40" y="657.70" font-size="25" text-anchor="start" textLength="8.20" lengthAdjust="spacingAndGlyphs" font-style="italic">t</text>
<g transform="translate(223.0 660.6) skewX(-6) scale(1.17 1.09)"><text x="0" y="0" font-size="25">/</text></g>
<text x="232.00" y="657.70" font-size="25" text-anchor="start" textLength="8.20" lengthAdjust="spacingAndGlyphs" font-style="italic">t</text>
<text x="241.70" y="663.00" font-size="17.5" text-anchor="start" textLength="14.00" lengthAdjust="spacingAndGlyphs" >tr</text>
<g transform="translate(13.9 455.4) rotate(-90)"><text x="0" y="0" font-size="25" font-style="italic" textLength="15.5" lengthAdjust="spacingAndGlyphs">x</text><text x="16.3" y="4.2" font-size="17.5" font-style="italic">l</text></g>
<g clip-path="url(#cc)" fill="none" stroke-width="6.25" stroke-linejoin="round">
<polyline points="501.00,270.28 501.24,312.48 501.39,339.90 501.48,373.14 501.72,398.09 502.56,414.81 503.70,422.99 506.19,431.27 510.00,436.75 518.40,438.02 524.40,442.24 530.40,444.35 560.40,444.35 590.40,444.35 606.00,443.82 612.90,442.77 620.40,444.35 650.40,444.88 680.40,444.35 710.40,443.82 740.40,444.35 758.40,443.82 768.60,441.19 779.40,444.35 785.40,448.57 789.90,458.06 795.90,454.90 799.80,433.80" stroke="#E48300"/>
<polyline points="500.70,270.28 500.94,312.48 501.09,339.90 501.18,373.14 501.42,398.09 502.26,414.81 503.40,422.99 505.89,431.27 509.70,436.75 515.40,439.08 522.90,436.44 528.90,423.78 536.40,433.80 542.40,428.53 549.90,432.75 560.40,431.69 577.50,424.31 587.10,424.31 597.60,417.98 617.40,407.43 629.10,407.43 640.80,402.15 655.50,397.93 668.40,398.99 678.90,397.67 692.70,402.15 714.90,407.43 725.40,403.21 735.90,413.75 744.30,415.87 753.90,421.14 764.40,421.14 772.80,427.47 781.50,428.53 789.60,425.36 792.60,440.13 795.30,455.96 798.00,446.99 800.55,428.53 800.70,398.99" stroke="#CE4600"/>
<polyline points="501.30,270.28 501.54,312.48 501.69,339.90 501.78,373.14 502.02,398.09 502.86,414.81 504.00,422.99 506.49,431.27 510.30,436.75 518.40,438.02 526.80,441.71 532.50,425.89 543.90,439.08 551.40,426.42 575.40,412.70 595.50,398.99 606.90,396.88 620.70,383.16 634.50,385.01 649.20,387.38 663.90,395.82 677.70,407.43 689.40,412.70 701.10,423.25 713.70,434.86 730.80,441.19 740.10,445.41 747.60,443.30 756.00,446.46 768.60,446.46 781.50,448.57 789.90,452.79 794.10,465.98 797.91,452.26 799.95,425.36 800.16,404.79" stroke="#B42000"/>
<polyline points="499.80,270.28 500.04,312.48 500.19,339.90 500.28,373.14 500.52,398.09 501.36,414.81 502.50,422.99 504.99,431.27 508.80,436.75 516.60,441.71 522.90,431.16 530.40,439.08 535.50,440.66 541.20,431.16 549.90,436.97 556.20,425.36 569.10,420.09 583.80,410.59 606.90,398.99 624.00,387.38 647.10,370.50 663.90,364.17 678.90,363.91 690.00,361.80 696.90,359.95 711.60,363.12 726.60,368.39 751.80,383.16 761.40,394.76 769.80,401.10 776.10,412.70 783.60,416.92 789.90,422.20 794.40,423.25 797.40,417.98 798.90,391.60 800.10,317.75 800.40,270.28" stroke="#970BCE"/>
<polyline points="500.40,270.28 500.64,312.48 500.79,339.90 500.88,373.14 501.12,398.09 501.96,414.81 503.10,422.99 505.59,431.27 509.40,436.75 512.40,439.08 515.40,439.34 521.40,426.42 531.21,438.55 536.91,425.36 542.01,427.47 549.90,419.03 565.80,401.10 576.30,384.22 588.00,376.83 616.50,342.01 633.30,350.46 651.30,335.69 669.30,337.27 688.50,347.29 703.20,364.17 720.00,376.83 732.90,387.38 745.50,403.21 760.20,413.75 774.90,425.36 783.60,424.31 791.10,420.09 797.10,425.89 798.60,410.06 799.41,394.76 800.10,380.00 800.25,328.30 800.40,270.28" stroke="#7202F3"/>
<line x1="485.0" x2="815.0" y1="444.45" y2="444.45" stroke="#000" stroke-width="4.8" stroke-dasharray="6.5 11.08"/>
</g>
<g stroke="#000" stroke-width="0.85" fill="none">
<rect x="485.5" y="281.1" width="329.5" height="326.9"/>
</g>
<g stroke="#000" stroke-width="0.85">
<line x1="478.5" x2="485.1" y1="602.60" y2="602.60"/>
<line x1="478.5" x2="485.1" y1="497.10" y2="497.10"/>
<line x1="478.5" x2="485.1" y1="391.60" y2="391.60"/>
<line x1="478.5" x2="485.1" y1="286.10" y2="286.10"/>
<line y1="608.4" y2="614.6" x1="500.40" x2="500.40"/>
<line y1="608.4" y2="614.6" x1="650.40" x2="650.40"/>
<line y1="608.4" y2="614.6" x1="800.40" x2="800.40"/>
</g>
<text x="461.60" y="611.30" font-size="23.8" text-anchor="start" textLength="14.10" lengthAdjust="spacingAndGlyphs" >0</text>
<text x="461.60" y="505.80" font-size="23.8" text-anchor="start" textLength="14.10" lengthAdjust="spacingAndGlyphs" >2</text>
<text x="461.60" y="400.30" font-size="23.8" text-anchor="start" textLength="14.10" lengthAdjust="spacingAndGlyphs" >4</text>
<text x="461.60" y="294.80" font-size="23.8" text-anchor="start" textLength="14.10" lengthAdjust="spacingAndGlyphs" >6</text>
<text x="482.50" y="635.00" font-size="23.8" text-anchor="start" textLength="35.30" lengthAdjust="spacingAndGlyphs" >0.0</text>
<text x="632.50" y="635.00" font-size="23.8" text-anchor="start" textLength="35.30" lengthAdjust="spacingAndGlyphs" >0.5</text>
<text x="782.50" y="635.00" font-size="23.8" text-anchor="start" textLength="35.30" lengthAdjust="spacingAndGlyphs" >1.0</text>
<text x="780.60" y="598.00" font-size="24.7" text-anchor="start" textLength="29.40" lengthAdjust="spacingAndGlyphs" >(c)</text>
<g transform="translate(448.8 507.4) rotate(-90)"><text x="0.00" y="0.00" font-size="23.0" text-anchor="start" textLength="103.60" lengthAdjust="spacingAndGlyphs" >Exponent</text><text x="110.60" y="0.00" font-size="23.0" text-anchor="start" textLength="14.00" lengthAdjust="spacingAndGlyphs" font-style="italic">n</text></g>
<text x="639.80" y="659.20" font-size="22.2" text-anchor="start" textLength="14.00" lengthAdjust="spacingAndGlyphs" font-style="italic">x</text>
<text x="654.4" y="663.4" font-size="16.5" font-style="italic">l</text>
</g>
</svg>
</body></html>
